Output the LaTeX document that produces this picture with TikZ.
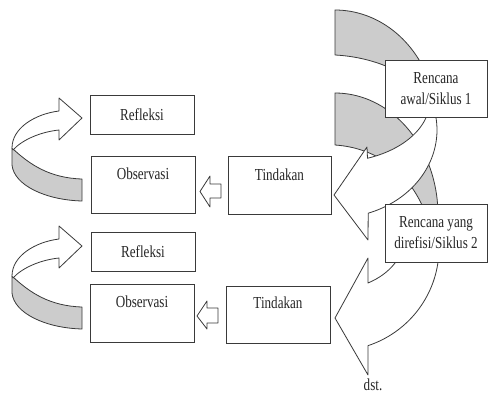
\documentclass[tikz,border=0pt]{standalone}
\usepackage{fontspec}
\setmainfont{Liberation Serif}[FakeStretch=0.78]
\usetikzlibrary{calc}
\definecolor{ln}{HTML}{3A3A3A}
\definecolor{shade}{HTML}{CCCCCC}
\begin{document}
\begin{tikzpicture}[x=1pt,y=-1pt,
  box/.style={draw=ln, line width=0.9pt, fill=white, rectangle, inner sep=0pt,
              font=\fontsize{16.8}{21}\selectfont, align=center, text=black!85},
  lbl/.style={font=\fontsize{16.8}{21}\selectfont, inner sep=0pt, text=black!85},
  backband/.style={draw=ln, line width=0.8pt, fill=shade, line join=round},
  frontband/.style={draw=ln, line width=0.8pt, fill=white, line join=round},
]
\useasboundingbox (0,0) rectangle (488,396);

% ---- right curved arrows: back (shaded) parts
\path[backband] plot[domain=90:5,samples=40,variable=\t] ({335+102*cos(\t)},{125-115*sin(\t)})
   -- (428,105) .. controls (420,75) and (375,57) .. (335,55) -- cycle;
\path[backband] plot[domain=90:-5,samples=40,variable=\t] ({335+103*cos(\t)},{215-122*sin(\t)})
   -- (425,212) .. controls (405,162) and (365,147) .. (335,145) -- cycle;

% ---- right curved arrows: front parts with heads
\path[frontband] (367,147)
   -- plot[domain=-70:0,samples=30,variable=\t] ({335+95*cos(\t)},{100-62*sin(\t)})
   -- plot[domain=10:-71,samples=40,variable=\t] ({335+102*cos(\t)},{130-88*sin(\t)})
   -- (368,240) -- (334,195) -- cycle;
\path[frontband] (368,258)
   -- plot[domain=-61.9:0,samples=30,variable=\t] ({335+70*cos(\t)},{235-54.4*sin(\t)})
   -- plot[domain=10:-71.5,samples=40,variable=\t] ({335+104*cos(\t)},{248-103*sin(\t)})
   -- (368,375) -- (335,318) -- cycle;

% ---- boxes
\node[box, minimum width=102pt, minimum height=57pt] (ren1) at (436,88.5) {Rencana\\awal/Siklus 1};
\node[box, minimum width=102pt, minimum height=58pt] (ren2) at (436,233) {Rencana yang\\direfisi/Siklus 2};

\node[box, minimum width=104pt, minimum height=39pt] (ref1) at (142,114.5) {Refleksi};
\node[box, minimum width=104pt, minimum height=57pt] (obs1) at (143,184.5) {};
\node[lbl, anchor=base] (obs1t) at (143,179) {Observasi};
\node[box, minimum width=103pt, minimum height=58pt] (tind1) at (279.5,185) {};
\node[lbl, anchor=base] (tind1t) at (279.5,180) {Tindakan};

\node[box, minimum width=104pt, minimum height=39pt] (ref2) at (143,251.5) {Refleksi};
\node[box, minimum width=104pt, minimum height=58pt] (obs2) at (142,313) {};
\node[lbl, anchor=base] (obs2t) at (142,307) {Observasi};
\node[box, minimum width=104pt, minimum height=57pt] (tind2) at (278,314.5) {};
\node[lbl, anchor=base] (tind2t) at (278,308) {Tindakan};

\node[lbl, anchor=base] (dst) at (373,390) {dst.};

% ---- small hollow block arrows Tindakan -> Observasi
\path[frontband] (221,184) -- (210,184) -- (210,176) -- (200,191.5) -- (210,207) -- (210,198) -- (221,198) -- cycle;
\path[frontband] (218,308) -- (207,308) -- (207,301) -- (197,316) -- (207,329) -- (207,323) -- (218,323) -- cycle;

% ---- left curved arrows Observasi -> Refleksi
\foreach \dy in {0,128} {
  \begin{scope}[shift={(0,\dy)}]
    \path[backband] (12,148) .. controls (30,165) and (50,178) .. (82,179)
       -- (82,201) .. controls (45,200) and (14,185) .. (12,165) -- cycle;
    \path[frontband] (59,111) .. controls (35,114) and (12,128) .. (12,148)
       -- (13,150) .. controls (22,140) and (40,132) .. (59,130)
       -- (59,140) -- (82,118) -- (59,98) -- cycle;
  \end{scope}
}
\end{tikzpicture}
\end{document}
